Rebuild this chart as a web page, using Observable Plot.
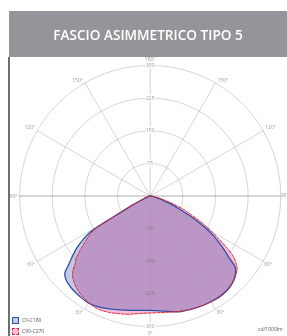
<!DOCTYPE html>
<html><head><meta charset="utf-8">
<script src="https://cdn.jsdelivr.net/npm/d3@7"></script>
<script src="https://cdn.jsdelivr.net/npm/@observablehq/plot@0.6"></script>
<style>
body{margin:0;background:#fff;width:287px;height:336px;overflow:hidden;position:relative;font-family:"Open Sans",sans-serif}
#title{position:absolute;left:9px;top:11px;width:278px;height:46px;background:#939598;color:#fff;font-weight:600;font-size:13.6px;display:flex;align-items:center;justify-content:center}
#frame{position:absolute;left:8px;top:57px;width:2px;height:279px;background:#6d6e70;z-index:2}
#chart{position:absolute;left:0;top:57px}
.leg{position:absolute;left:12px;font-size:5px;color:#555;line-height:7px;display:flex;align-items:center;z-index:3}
.sw{width:5px;height:5px;margin-right:3px}
</style></head>
<body>
<div id="title"></div>
<div id="frame"></div>
<div id="chart"></div>
<div class="leg" style="top:317px"><div class="sw" style="background:#c3c8e6;border:1px solid #2a4fa8"></div><span id="l0"></span></div>
<div class="leg" style="top:328px"><div class="sw" style="background:#f8bfde;border:1px dashed #e32028"></div><span id="l1"></span></div>
<script>
const title = "FASCIO ASIMMETRICO TIPO 5";
const seriesNames = ["C0-C180", "C90-C270"];
const unitLabel = "cd/1000lm";
const angles = [-90,-80,-70,-65,-63,-62,-61,-60,-59,-57,-55,-52,-50,-48,-46,-44,-42,-40,-35,-30,-25,-20,-15,-10,-5,0,5,10,15,20,25,30,35,40,45,48,50,52,54,56,58,60,62,64,66,68,70,72,75,80,90];
const c0c180 = [0,2,8,22,45,58,80,118,160,184,204,228,244,264,271,275,277,279,282,284,281,276,271,267,264,263,265,270,275,277,279,280,281,279,272,264,255,230,210,190,170,148,122,94,72,56,43,32,18,6,0];
const c90c270 = [0,3,10,25,45,60,80,115,150,168,182,205,222,232,247,257,263,268,277,283,286,284,280,276,271,269,269,271,274,277,279,281,282,280,273,266,261,250,236,212,186,163,142,118,98,83,63,46,28,10,0];
const radialTicks = [75, 150, 225, 300];
const angleTicks = [0, 30, 60, 90, 120, 150, 180];

document.getElementById("title").textContent = title;
document.getElementById("l0").textContent = seriesNames[0];
document.getElementById("l1").textContent = seriesNames[1];

const rad = d => d * Math.PI / 180;
const toXY = (a, v) => ({x: v * Math.sin(rad(a)), y: -v * Math.cos(rad(a))});
const blue = angles.map((a, i) => toXY(a, c0c180[i]));
const red = angles.map((a, i) => toXY(a, c90c270[i]));
const rMax = radialTicks[radialTicks.length - 1];

const circles = [];
radialTicks.forEach(r => { for (let a = 0; a <= 360; a += 2) circles.push({r, ...toXY(a, r)}); });
const spokes = [];
for (let a = 0; a < 360; a += 30) { if (a % 180 === 90) continue; spokes.push({a, ...toXY(a, 0)}); spokes.push({a, ...toXY(a, rMax)}); }
const horiz = [toXY(-90, rMax), toXY(90, rMax)];

const rUpper = radialTicks.map(r => ({t: String(r), ...toXY(180, r)}));
const rLower = radialTicks.map(r => ({t: String(r), ...toXY(0, r)}));
const aLabels = [];
angleTicks.filter(a => a > 0 && a < 180).forEach(a => {
  aLabels.push({t: a + "°", ...toXY(a, rMax), side: "R", a});
  aLabels.push({t: a + "°", ...toXY(-a, rMax), side: "L", a});
});
const pick = (side, test) => aLabels.filter(d => d.side === side && test(d.a));

const cx = 149.7, cy = 138.5, R = 130.5;
const fs = 5, lc = "#999";
const plot = Plot.plot({
  width: 287, height: 279,
  marginTop: 0, marginBottom: 0, marginLeft: 0, marginRight: 0,
  x: {domain: [-rMax, rMax], range: [cx - R, cx + R], axis: null},
  y: {domain: [-rMax, rMax], range: [cy + R, cy - R], axis: null},
  style: {fontFamily: "'Open Sans', sans-serif", background: "transparent"},
  marks: [
    Plot.line(blue, {x: "x", y: "y", fill: "#c3c8e6", stroke: "none", curve: "catmull-rom"}),
    Plot.line(red, {x: "x", y: "y", fill: "#f8bfde", stroke: "none", curve: "catmull-rom", mixBlendMode: "multiply"}),
    Plot.line(horiz, {x: "x", y: "y", stroke: "#d6d6d6", strokeWidth: 2}),
    Plot.line(circles, {x: "x", y: "y", z: "r", stroke: "#9a9a9a", strokeOpacity: 0.6, strokeWidth: 0.7}),
    Plot.line(spokes, {x: "x", y: "y", z: "a", stroke: "#9a9a9a", strokeOpacity: 0.6, strokeWidth: 0.7}),
    Plot.line(blue, {x: "x", y: "y", stroke: "#2a4fa8", strokeWidth: 1.3, curve: "catmull-rom"}),
    Plot.line(red, {x: "x", y: "y", stroke: "#e32028", strokeWidth: 1, strokeDasharray: "3,1.5", curve: "catmull-rom"}),
    Plot.text(rUpper, {x: "x", y: "y", text: "t", fontSize: fs, fill: lc, stroke: "white", strokeWidth: 2.5}),
    Plot.text(rLower.slice(0, 3), {x: "x", y: "y", text: "t", fontSize: fs, fill: "#8a7a90"}),
    Plot.text(rLower.slice(3), {x: "x", y: "y", text: "t", fontSize: fs, fill: lc, stroke: "white", strokeWidth: 2.5}),
    Plot.text([toXY(180, rMax)], {x: "x", y: "y", text: () => "180°", dy: -6, fontSize: fs, fill: lc}),
    Plot.text([toXY(0, rMax)], {x: "x", y: "y", text: () => "0°", dy: 7, fontSize: fs, fill: lc}),
    Plot.text(pick("R", a => a > 90), {x: "x", y: "y", text: "t", textAnchor: "start", dx: 2, dy: -3, fontSize: fs, fill: lc}),
    Plot.text(pick("L", a => a > 90), {x: "x", y: "y", text: "t", textAnchor: "end", dx: -2, dy: -3, fontSize: fs, fill: lc}),
    Plot.text(pick("R", a => a === 90), {x: "x", y: "y", text: "t", textAnchor: "start", dx: 0.5, fontSize: 4.6, fill: lc}),
    Plot.text(pick("L", a => a === 90), {x: "x", y: "y", text: "t", textAnchor: "end", dx: -2, fontSize: fs, fill: lc}),
    Plot.text(pick("R", a => a < 90), {x: "x", y: "y", text: "t", textAnchor: "start", dx: 1, dy: 3.5, fontSize: fs, fill: lc}),
    Plot.text(pick("L", a => a < 90), {x: "x", y: "y", text: "t", textAnchor: "end", dx: -2, dy: 3.5, fontSize: fs, fill: lc}),
    Plot.text([{x: rMax, y: -rMax}], {x: "x", y: "y", text: () => unitLabel, textAnchor: "end", dx: 2, dy: 3, fontSize: fs, fill: "#555"})
  ]
});
document.getElementById("chart").appendChild(plot);
</script>
</body></html>
